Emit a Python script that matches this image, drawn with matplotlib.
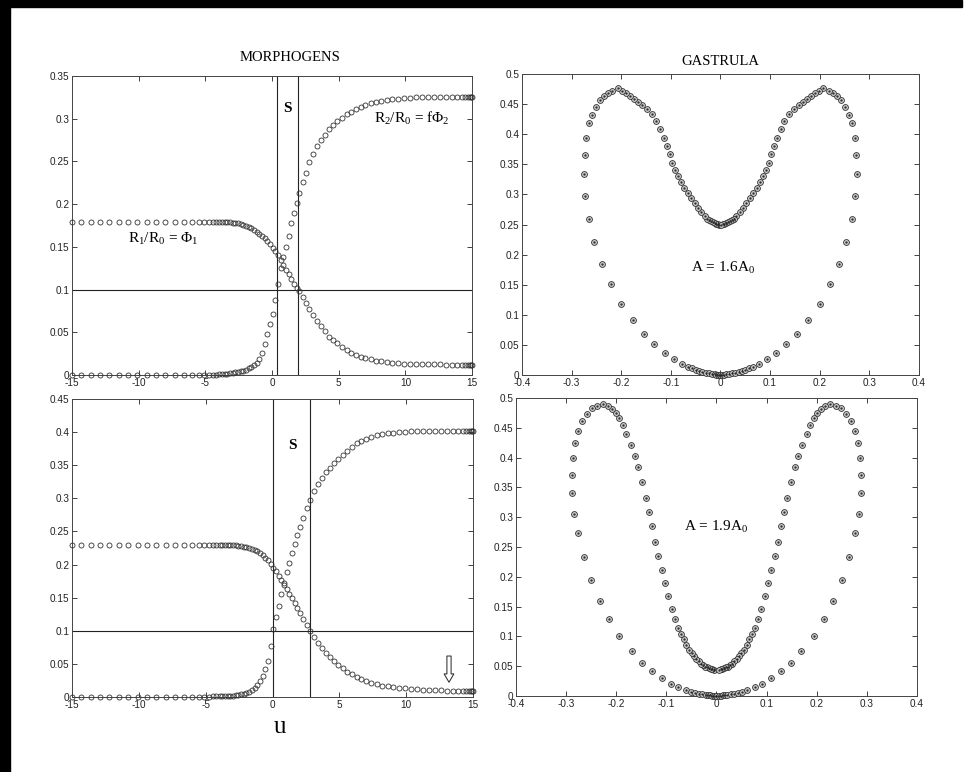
import numpy as np
import matplotlib
matplotlib.use("Agg")
import matplotlib.pyplot as plt
from matplotlib.ticker import FuncFormatter, MultipleLocator
from matplotlib.patches import Rectangle

# ---------------- data ----------------
u = [-15.0, -14.3, -13.6, -12.9, -12.2, -11.5, -10.8, -10.1, -9.4, -8.7,
     -8.0, -7.3, -6.6, -6.0, -5.5, -5.1, -4.75, -4.45, -4.2, -3.95,
     -3.75, -3.55, -3.35, -3.15, -2.95, -2.75, -2.55, -2.35, -2.15, -1.95,
     -1.75, -1.55, -1.35, -1.15, -0.95, -0.75, -0.55, -0.35, -0.15, 0.05,
     0.25, 0.45, 0.65, 0.85, 1.05, 1.25, 1.45, 1.65, 1.85, 2.05,
     2.3, 2.55, 2.8, 3.1, 3.4, 3.7, 4.0, 4.3, 4.6, 4.9,
     5.25, 5.6, 5.95, 6.3, 6.65, 7.0, 7.4, 7.8, 8.2, 8.6,
     9.0, 9.45, 9.9, 10.35, 10.8, 11.25, 11.7, 12.15, 12.6, 13.05,
     13.5, 13.9, 14.25, 14.5, 14.7, 14.85, 14.95, 15.0]

# top panel (A = 1.6 A0)
r1_top = [0.179] * 10 + [0.179] * 10 + \
    [0.179, 0.179, 0.179, 0.1788, 0.1785, 0.178, 0.1775, 0.177, 0.176, 0.175,
     0.1735, 0.172, 0.170, 0.168, 0.1655, 0.163, 0.160, 0.157, 0.153, 0.149,
     0.145, 0.140, 0.135, 0.129, 0.123, 0.118, 0.112, 0.107, 0.102, 0.098,
     0.091, 0.084, 0.077, 0.070, 0.063, 0.057, 0.051, 0.045, 0.041, 0.037,
     0.033, 0.029, 0.026, 0.0235, 0.0215, 0.020, 0.0185, 0.017, 0.016, 0.015,
     0.0145, 0.014, 0.0135, 0.0132, 0.013, 0.0128, 0.0126, 0.0125, 0.0124, 0.0123,
     0.0122, 0.0122, 0.0121, 0.0121, 0.0121, 0.0121, 0.0121, 0.0121]
r2_top = [0.0003] * 10 + \
    [0.0003, 0.0003, 0.0003, 0.0003, 0.0003, 0.0003, 0.0004, 0.0005, 0.0006, 0.0008,
     0.001, 0.0012, 0.0015, 0.0019, 0.0024, 0.003, 0.0036, 0.0043, 0.0052, 0.0063,
     0.0077, 0.0095, 0.0115, 0.0140, 0.019, 0.026, 0.036, 0.048, 0.060, 0.072,
     0.088, 0.106, 0.125, 0.138, 0.150, 0.163, 0.178, 0.190, 0.201, 0.213,
     0.226, 0.237, 0.249, 0.259, 0.268, 0.275, 0.281, 0.288, 0.293, 0.297,
     0.301, 0.305, 0.308, 0.311, 0.314, 0.316, 0.318, 0.320, 0.321, 0.322,
     0.323, 0.3235, 0.324, 0.3245, 0.325, 0.3252, 0.3255, 0.3257, 0.3258, 0.326,
     0.326, 0.326, 0.326, 0.326, 0.326, 0.326, 0.326, 0.326]

# bottom panel (A = 1.9 A0)
r1_bot = [0.23] * 20 + \
    [0.2299, 0.2298, 0.2297, 0.2295, 0.2292, 0.2288, 0.2283, 0.2277, 0.227, 0.226,
     0.2248, 0.2235, 0.2218, 0.2197, 0.2172, 0.2142, 0.2105, 0.2062, 0.2012, 0.1955,
     0.1895, 0.1832, 0.1765, 0.1697, 0.1627, 0.1557, 0.1487, 0.1416, 0.1345, 0.1273,
     0.1183, 0.1093, 0.1003, 0.091, 0.082, 0.074, 0.067, 0.061, 0.055, 0.049,
     0.043, 0.038, 0.034, 0.030, 0.0265, 0.0235, 0.021, 0.019, 0.0172, 0.0158,
     0.0147, 0.0137, 0.0128, 0.0121, 0.0115, 0.011, 0.0105, 0.0101, 0.0098, 0.0095,
     0.0093, 0.0091, 0.009, 0.0089, 0.0088, 0.0087, 0.0087, 0.0086]
r2_bot = [0.0005] * 10 + \
    [0.0005, 0.0005, 0.0005, 0.0005, 0.0005, 0.0005, 0.0006, 0.0007, 0.0008, 0.0009,
     0.001, 0.0012, 0.0014, 0.0017, 0.002, 0.0025, 0.003, 0.0038, 0.0048, 0.006,
     0.0078, 0.010, 0.0135, 0.018, 0.024, 0.032, 0.042, 0.055, 0.077, 0.103,
     0.121, 0.137, 0.155, 0.172, 0.188, 0.203, 0.217, 0.231, 0.244, 0.256,
     0.270, 0.285, 0.298, 0.311, 0.322, 0.331, 0.339, 0.346, 0.353, 0.359,
     0.366, 0.372, 0.378, 0.383, 0.386, 0.389, 0.392, 0.395, 0.397, 0.398,
     0.399, 0.400, 0.4005, 0.401, 0.4013, 0.4015, 0.4017, 0.402, 0.402, 0.402,
     0.402, 0.402, 0.402, 0.402, 0.402, 0.402, 0.402, 0.402]

s_lines_top = [0.35, 1.97]
s_lines_bot = [0.02, 2.8]
threshold = 0.1

# gastrula profiles: right half (outer branch then inner branch), mirrored to the left
g1_x = [0.0, 0.004, 0.008, 0.012, 0.017, 0.0235, 0.030, 0.037, 0.044, 0.050,
        0.058, 0.066, 0.077, 0.093, 0.112, 0.133, 0.154, 0.177, 0.200, 0.220,
        0.238, 0.254, 0.265, 0.272, 0.275, 0.274, 0.271, 0.265, 0.259, 0.250,
        0.242, 0.234, 0.227, 0.218, 0.207,
        0.198, 0.191, 0.183, 0.175, 0.167, 0.158, 0.148, 0.138, 0.129, 0.121,
        0.114, 0.107, 0.102, 0.097, 0.091, 0.085, 0.079, 0.073, 0.066, 0.059,
        0.052, 0.046, 0.039, 0.032, 0.027, 0.0235, 0.019, 0.015, 0.011, 0.008,
        0.005, 0.002]
g1_y = [0.0005, 0.0006, 0.0008, 0.0012, 0.0018, 0.0026, 0.0036, 0.005, 0.0065, 0.0085,
        0.011, 0.014, 0.018, 0.026, 0.036, 0.051, 0.068, 0.091, 0.118, 0.152,
        0.184, 0.221, 0.260, 0.298, 0.334, 0.366, 0.394, 0.418, 0.432, 0.446,
        0.457, 0.464, 0.469, 0.472, 0.476,
        0.472, 0.468, 0.464, 0.459, 0.454, 0.448, 0.442, 0.433, 0.422, 0.408,
        0.394, 0.381, 0.367, 0.353, 0.341, 0.331, 0.321, 0.311, 0.303, 0.294,
        0.286, 0.278, 0.271, 0.264, 0.260, 0.2575, 0.2555, 0.254, 0.2525, 0.251,
        0.2502, 0.2495]

g2_x = [0.0, 0.004, 0.008, 0.012, 0.016, 0.021, 0.028, 0.035, 0.043, 0.051,
        0.061, 0.076, 0.090, 0.108, 0.128, 0.148, 0.169, 0.194, 0.214, 0.233,
        0.251, 0.265, 0.277, 0.284, 0.289, 0.289, 0.287, 0.283, 0.277, 0.269,
        0.259, 0.249, 0.239, 0.227,
        0.217, 0.209, 0.201, 0.194, 0.187, 0.180, 0.171, 0.163, 0.156, 0.148,
        0.141, 0.134, 0.129, 0.122, 0.116, 0.109, 0.102, 0.096, 0.089, 0.082,
        0.076, 0.070, 0.065, 0.060, 0.055, 0.049, 0.045, 0.040, 0.035, 0.031,
        0.027, 0.023, 0.019, 0.015, 0.011, 0.008, 0.005]
g2_y = [0.0003, 0.0004, 0.0006, 0.0009, 0.0013, 0.0018, 0.0026, 0.0036, 0.005, 0.0068,
        0.0095, 0.0146, 0.021, 0.030, 0.042, 0.056, 0.076, 0.100, 0.129, 0.160,
        0.195, 0.233, 0.273, 0.306, 0.340, 0.371, 0.399, 0.424, 0.445, 0.461,
        0.474, 0.483, 0.487, 0.490,
        0.487, 0.482, 0.475, 0.466, 0.455, 0.440, 0.422, 0.403, 0.384, 0.359,
        0.333, 0.308, 0.286, 0.259, 0.235, 0.212, 0.190, 0.168, 0.146, 0.130,
        0.114, 0.104, 0.095, 0.086, 0.078, 0.072, 0.067, 0.062, 0.058, 0.054,
        0.0515, 0.0495, 0.048, 0.0465, 0.0455, 0.045, 0.0445]

# ---------------- figure ----------------
plt.rcParams['font.family'] = ['Liberation Sans', 'DejaVu Sans']
plt.rcParams['mathtext.fontset'] = 'custom'
plt.rcParams['mathtext.rm'] = 'Liberation Serif'
plt.rcParams['mathtext.it'] = 'Liberation Serif'
plt.rcParams['mathtext.bf'] = 'Liberation Serif:bold'
plt.rcParams['mathtext.default'] = 'rm'

fig = plt.figure(figsize=(9.67, 7.72), dpi=100)
fig.patch.set_facecolor('white')

SERIF = ['Liberation Serif', 'DejaVu Serif']
fmt = FuncFormatter(lambda v, p: ('%g' % round(v, 3)) if abs(v) > 1e-9 else '0')

def style(ax):
    ax.tick_params(direction='in', top=True, right=True, length=3.5, width=0.6,
                   labelsize=7.2, colors='#222222', pad=2)
    for s in ax.spines.values():
        s.set_linewidth(0.7)
        s.set_color('#444444')
    ax.yaxis.set_major_formatter(fmt)
    ax.xaxis.set_major_formatter(fmt)

def morph(ax, r1, r2, vl, ymax):
    ax.set_xlim(-15, 15)
    ax.set_ylim(0, ymax)
    ax.xaxis.set_major_locator(MultipleLocator(5))
    ax.yaxis.set_major_locator(MultipleLocator(0.05))
    for v in vl:
        ax.axvline(v, color='#222222', lw=0.8, zorder=1)
    ax.axhline(threshold, color='#222222', lw=0.8, zorder=1)
    ax.plot(u, r1, 'o', ms=3.6, mfc='none', mec='#333333', mew=0.6, clip_on=False, zorder=3)
    ax.plot(u, r2, 'o', ms=3.6, mfc='none', mec='#333333', mew=0.6, clip_on=False, zorder=3)
    style(ax)

def gastrula(ax, hx, hy):
    hx = np.asarray(hx); hy = np.asarray(hy)
    xs = np.concatenate([-hx[::-1], hx])
    ys = np.concatenate([hy[::-1], hy])
    ax.set_xlim(-0.4, 0.4)
    ax.set_ylim(0, 0.5)
    ax.xaxis.set_major_locator(MultipleLocator(0.1))
    ax.yaxis.set_major_locator(MultipleLocator(0.05))
    ax.plot(xs, ys, 'o', ms=4.2, mfc='#c8c8c8', mec='#333333', mew=0.6, clip_on=False, zorder=3)
    ax.plot(xs, ys, '.', ms=1.2, color='#222222', clip_on=False, zorder=4)
    style(ax)

ax1 = fig.add_axes([0.0745, 0.5142, 0.4137, 0.3873])
ax2 = fig.add_axes([0.5398, 0.5142, 0.4105, 0.3899])
ax3 = fig.add_axes([0.0745, 0.0972, 0.4147, 0.3860])
ax4 = fig.add_axes([0.5336, 0.0984, 0.4147, 0.3860])

morph(ax1, r1_top, r2_top, s_lines_top, 0.35)
morph(ax3, r1_bot, r2_bot, s_lines_bot, 0.45)
gastrula(ax2, g1_x, g1_y)
gastrula(ax4, g2_x, g2_y)

# annotations
ax1.text(1.15, 0.312, 'S', family=SERIF, fontsize=11, fontweight='bold', ha='center', va='center')
ax1.text(10.5, 0.300, r'R$_2$/R$_0$ = f$\Phi_2$', family=SERIF, fontsize=11, ha='center', va='center')
ax1.text(-8.2, 0.159, r'R$_1$/R$_0$ = $\Phi_1$', family=SERIF, fontsize=11, ha='center', va='center')
ax3.text(1.5, 0.380, 'S', family=SERIF, fontsize=11, fontweight='bold', ha='center', va='center')
ax3.annotate('', xy=(13.2, 0.018), xytext=(13.2, 0.066),
             arrowprops=dict(arrowstyle='simple,head_width=0.7,head_length=0.6,tail_width=0.3',
                             fc='white', ec='#222222', lw=0.7))
ax2.text(0.005, 0.178, r'A = 1.6A$_0$', family=SERIF, fontsize=11, ha='center', va='center')
ax4.text(0.0, 0.284, r'A = 1.9A$_0$', family=SERIF, fontsize=11, ha='center', va='center')

fig.text(0.2999, 0.926, 'MORPHOGENS', family=SERIF, fontsize=10.5, ha='center', va='center')
fig.text(0.7446, 0.9197, 'GASTRULA', family=SERIF, fontsize=10.5, ha='center', va='center')
fig.text(0.2896, 0.0583, 'u', family=SERIF, fontsize=18, ha='center', va='center')

# scanned page border
fig.patches.append(Rectangle((0, 0), 10 / 967, 1, transform=fig.transFigure,
                             color='black', zorder=10))
fig.patches.append(Rectangle((0, 1 - 7 / 772), 962 / 967, 7 / 772, transform=fig.transFigure,
                             color='black', zorder=10))

fig.savefig('out.png', dpi=100, facecolor='white')
